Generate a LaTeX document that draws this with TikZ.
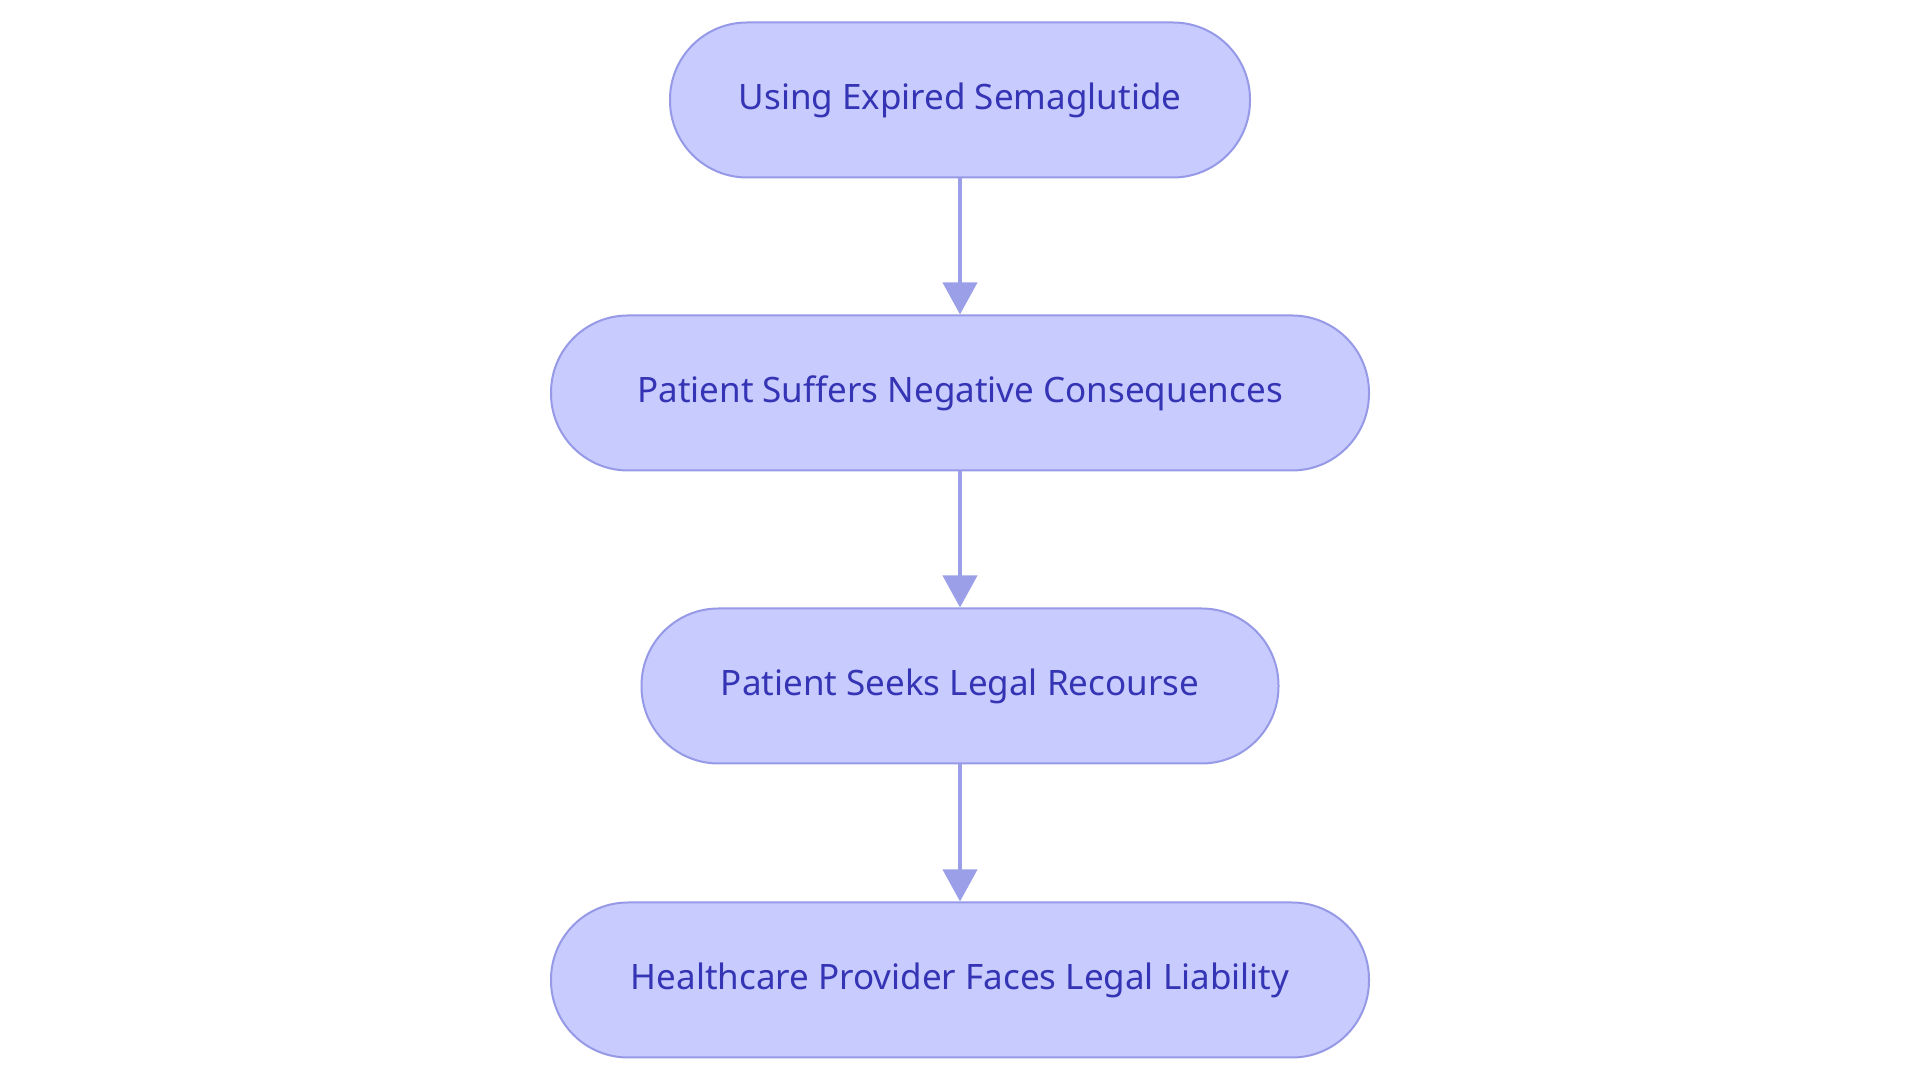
\documentclass[tikz,border=0pt]{standalone}
\usepackage{fontspec}
\setmainfont{Noto Sans}
\usetikzlibrary{arrows.meta}
\definecolor{nfill}{HTML}{C8CBFE}
\definecolor{nline}{HTML}{9599E6}
\definecolor{ntext}{HTML}{3434B4}
\definecolor{aline}{HTML}{9A9FE8}
\begin{document}
\begin{tikzpicture}[x=1pt,y=1pt,
  box/.style={draw=nline,line width=2pt,fill=nfill,rounded corners=77pt,minimum height=155pt,text=ntext,font=\fontsize{35}{40}\selectfont,inner sep=0pt},
  arr/.style={draw=aline,line width=4pt,-{Triangle[length=32pt,width=34pt]}}]
\useasboundingbox (0,0) rectangle (1920,1083);
\node[box,minimum width=580pt] (a) at (960,983) {Using Expired Semaglutide};
\node[box,minimum width=818pt] (b) at (960,690) {Patient Suffers Negative Consequences};
\node[box,minimum width=637pt] (c) at (960,397) {Patient Seeks Legal Recourse};
\node[box,minimum width=818pt] (d) at (960,103) {Healthcare Provider Faces Legal Liability};
\draw[arr] (a) -- (b);
\draw[arr] (b) -- (c);
\draw[arr] (c) -- (d);
\end{tikzpicture}
\end{document}
